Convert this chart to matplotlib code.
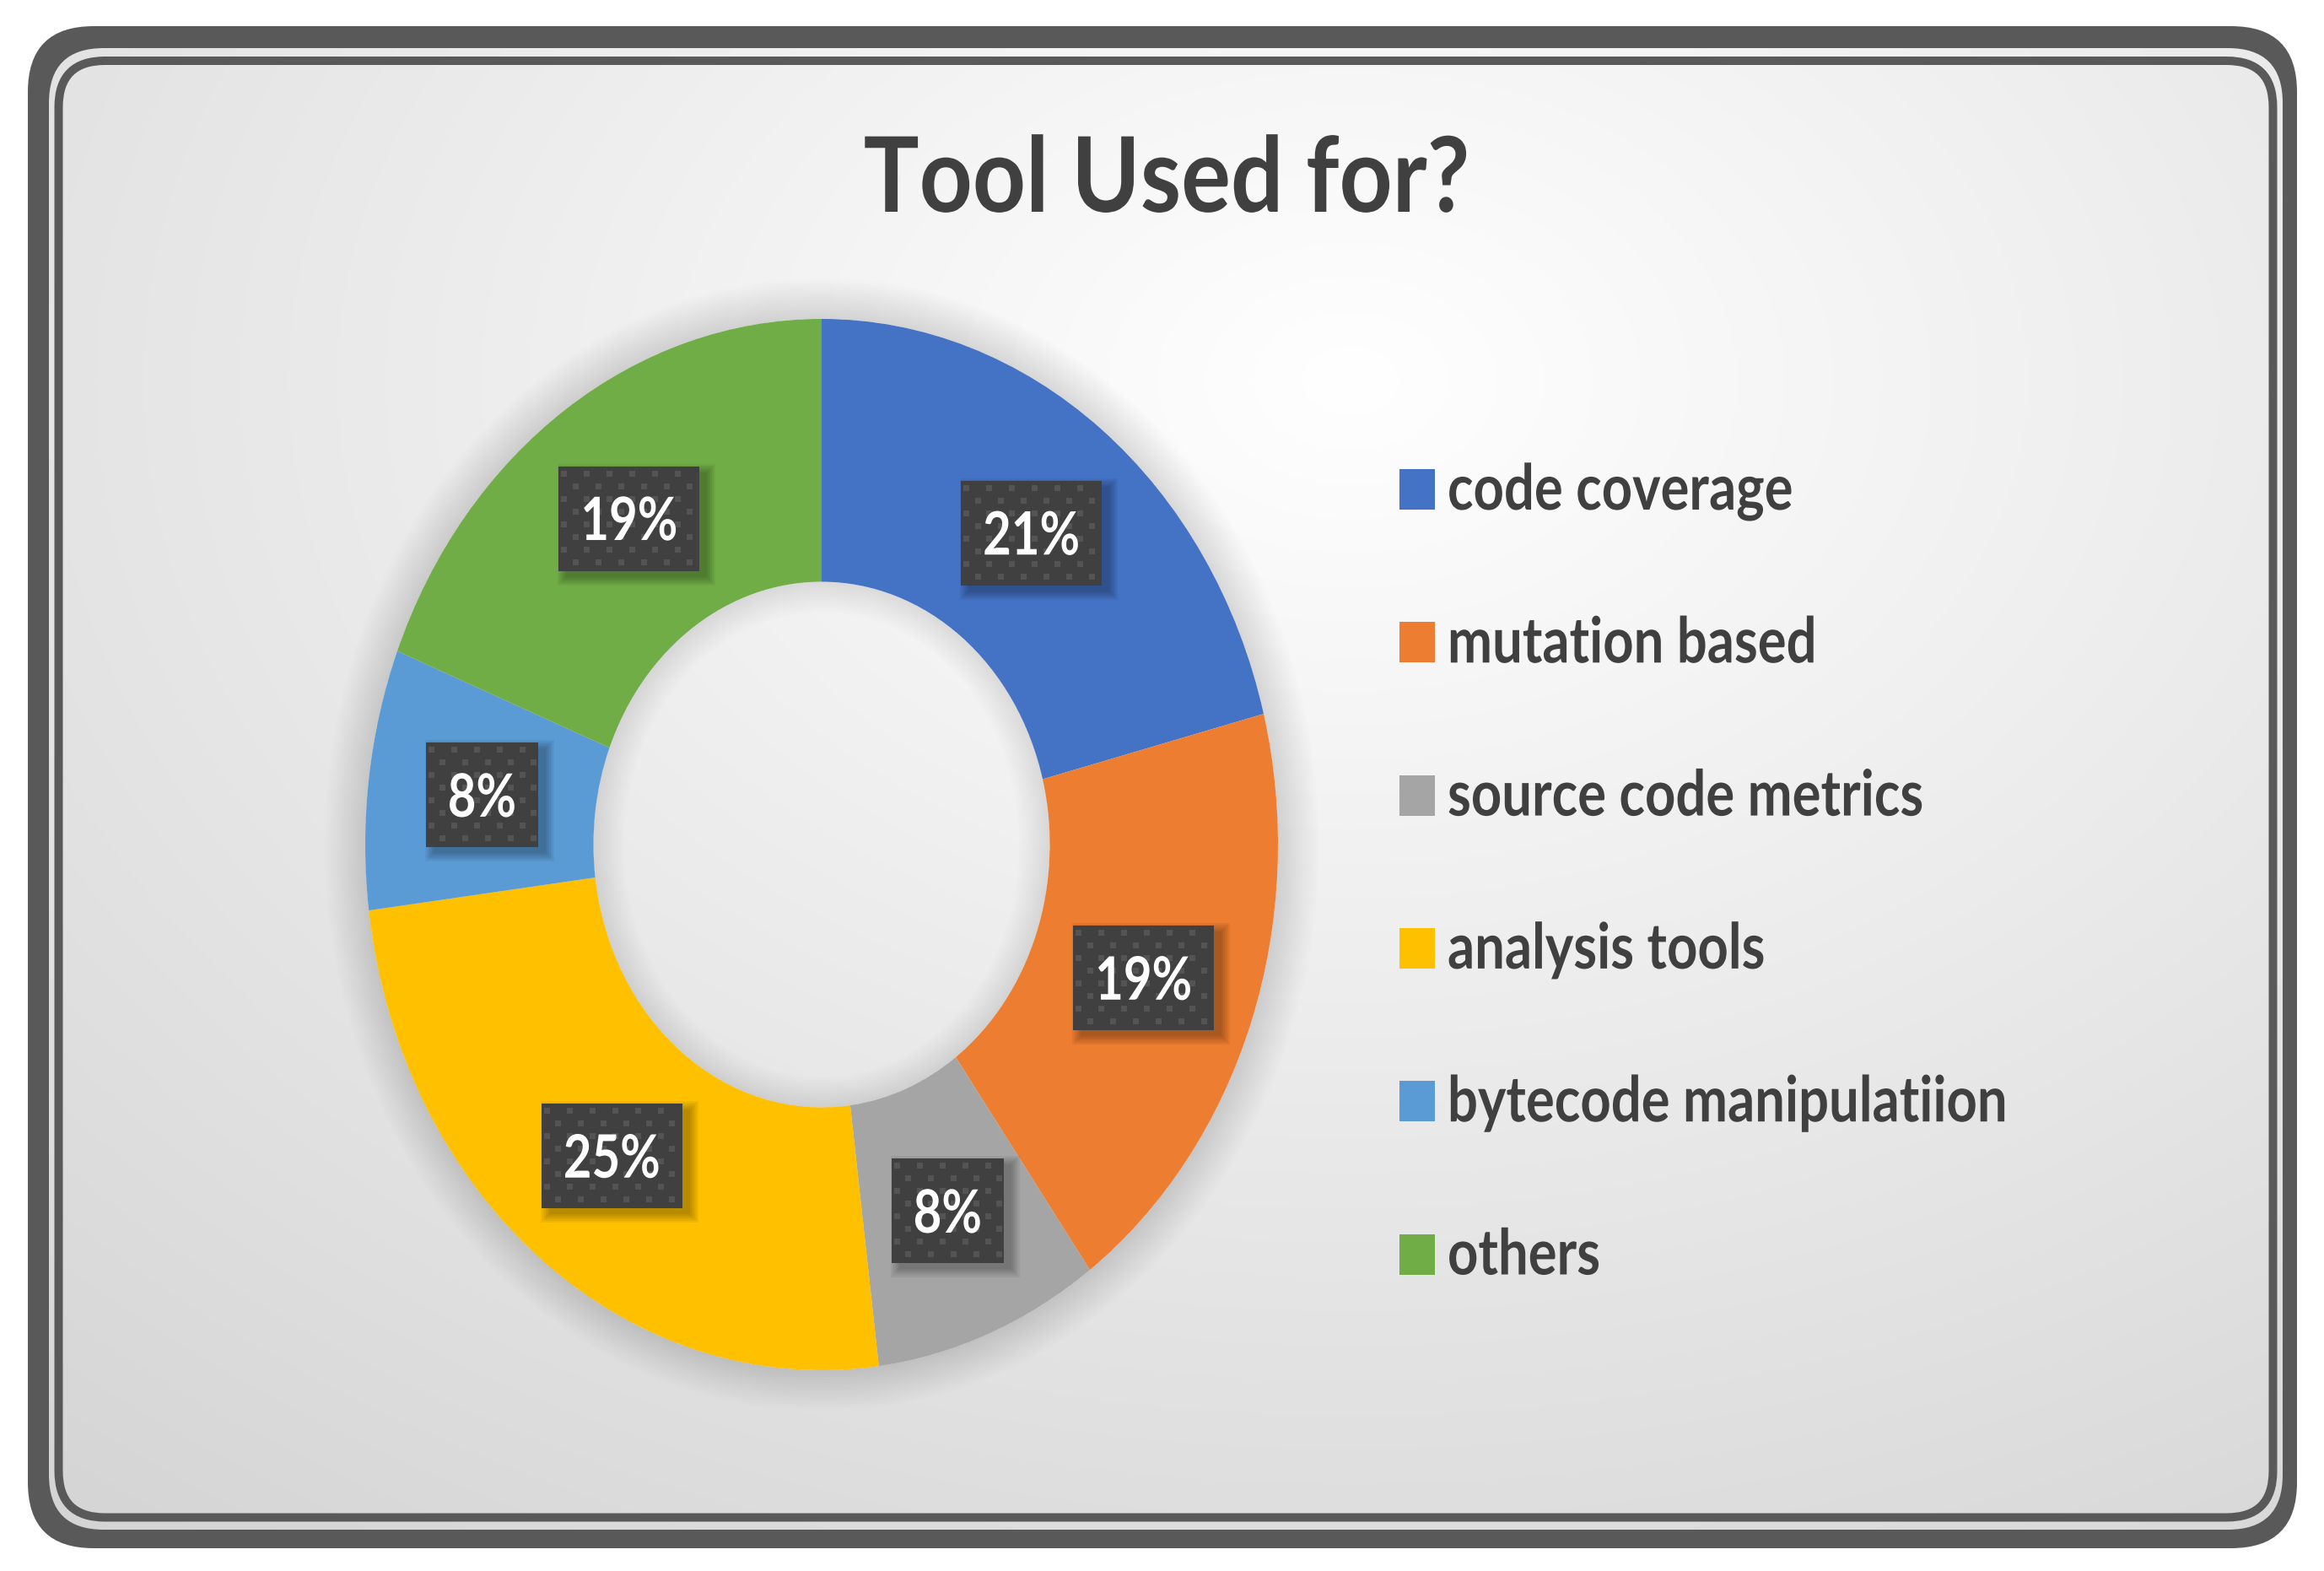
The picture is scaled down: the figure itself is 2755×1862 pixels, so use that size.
import numpy as np
import matplotlib
matplotlib.use('Agg')
import matplotlib.pyplot as plt
from matplotlib.patches import FancyBboxPatch, Rectangle, Annulus
from matplotlib.transforms import Affine2D, ScaledTranslation
from matplotlib.patheffects import AbstractPathEffect

# ---------------- data ----------------
title = 'Tool Used for?'
categories = ['code coverage', 'mutation based', 'source code metrics',
              'analysis tools', 'bytecode manipulatiion', 'others']
shares = [21, 19, 8, 25, 8, 19]
colors = ['#4472C4', '#ED7D31', '#A5A5A5', '#FFC000', '#5B9BD5', '#70AD47']

# ---------------- setup ----------------
W, H = 2755, 1862
DPI = 100
FONT = ['Lato', 'DejaVu Sans']
DARK = '#404040'
plt.rcParams['font.family'] = FONT


class XSqueeze(AbstractPathEffect):
    """Render text horizontally condensed around its anchor point."""
    def __init__(self, text, sx):
        super().__init__()
        self.text = text
        self.sx = sx

    def draw_path(self, renderer, gc, tpath, affine, rgbFace=None):
        x0 = self.text.get_transform().transform(self.text.get_position())[0]
        t = affine + Affine2D().translate(-x0, 0).scale(self.sx, 1).translate(x0, 0)
        renderer.draw_path(gc, tpath, t, rgbFace)


def squeeze(t, sx):
    t.set_path_effects([XSqueeze(t, sx)])


fig = plt.figure(figsize=(W / DPI, H / DPI), dpi=DPI)
fig.patch.set_facecolor('white')

canvas = fig.add_axes([0, 0, 1, 1])
canvas.axis('off')

# background gradient
yy, xx = np.mgrid[0:H:4, 0:W:4]
d = np.hypot(xx - 1600.0, (yy - 450.0) * 1.4)
v = np.clip(1 - 6.85e-5 * d, 0, 1)
img = np.dstack([v, v, v])

outer = FancyBboxPatch((33, 31), 2690, 1804, boxstyle='round,pad=0,rounding_size=78',
                       fc='#595959', ec='none', zorder=0.5)
canvas.add_patch(outer)
inner = FancyBboxPatch((58, 57), 2648, 1756, boxstyle='round,pad=0,rounding_size=65',
                       fc='none', ec='none', zorder=0.6)
canvas.add_patch(inner)
im = canvas.imshow(img, extent=(0, W, H, 0), interpolation='bilinear', zorder=1)
im.set_clip_path(inner)
canvas.add_patch(FancyBboxPatch((69.5, 72), 2625, 1726.5, boxstyle='round,pad=0,rounding_size=55',
                                fc='none', ec='#595959', lw=7.2, zorder=2))
canvas.set_aspect('auto')
canvas.set_xlim(0, W)
canvas.set_ylim(H, 0)

# donut geometry (pixels)
cx, cy, RX, RY = 974, 1001, 541, 623

# soft shadow around donut and inside hole
for k in range(1, 17):
    canvas.add_patch(Annulus((cx, cy), (RX + 3 * k, RY + 3 * k), 3 * k,
                             fc='black', ec='none', alpha=0.0075, zorder=3))
for k in range(1, 13):
    canvas.add_patch(Annulus((cx, cy), (RX * 0.5, RY * 0.5), 3 * k,
                             fc='black', ec='none', alpha=0.006, zorder=3))

# title
tt = canvas.text(1383, 251, title, ha='center', va='baseline', fontsize=89,
                 fontweight='bold', color=DARK, zorder=5)
squeeze(tt, 0.89)

# legend
pitch = 181.3
for i, (lab, col) in enumerate(zip(categories, colors)):
    yb = 604 + i * pitch
    canvas.add_patch(Rectangle((1659, yb - 48), 42, 48, fc=col, ec='none', zorder=5))
    lt = canvas.text(1716, yb, lab, ha='left', va='baseline', fontsize=54,
                     fontweight='bold', color=DARK, zorder=5)
    squeeze(lt, 0.845)

# donut axes
pax = fig.add_axes([(cx - RX) / W, (H - cy - RY) / H, 2 * RX / W, 2 * RY / H])
pax.patch.set_visible(False)
wedges, texts, autotexts = pax.pie(
    shares, colors=colors, startangle=90, counterclock=False, radius=1,
    wedgeprops=dict(width=0.5, linewidth=0, edgecolor='none'),
    autopct=lambda p: f'{p:.0f}%', pctdistance=0.75)
pax.set_aspect('auto')
pax.set_xlim(-1, 1)
pax.set_ylim(-1, 1)
pax.axis('off')

renderer = fig.canvas.get_renderer()
SX_LAB = 0.82
DOT = 7
for t in autotexts:
    t.set_color('white')
    t.set_fontsize(51)
    t.set_fontweight('bold')
    t.set_family(FONT)
    t.set_ha('center')
    t.set_va('baseline')
    t.set_zorder(8)
    t.set_transform(pax.transData + ScaledTranslation(0, -0.255, fig.dpi_scale_trans))
    squeeze(t, SX_LAB)
    w = t.get_window_extent(renderer).width * SX_LAB
    disp = pax.transData.transform(t.get_position())
    px, py = canvas.transData.inverted().transform(disp)
    bw, bh = w + 52, 124
    x0, y0 = px - bw / 2, py - bh / 2
    # shadow
    for k in range(6):
        s = Rectangle((x0 + 9 - 2 * k, y0 + 7 - 2 * k), bw + 4 * k, bh + 4 * k,
                      fc='black', ec='none', alpha=0.05,
                      transform=canvas.transData, zorder=5, clip_on=False)
        pax.add_patch(s)
    box = Rectangle((x0, y0), bw, bh, fc='#404040', ec='none',
                    transform=canvas.transData, zorder=6, clip_on=False)
    pax.add_patch(box)
    # dotted texture (only dots fully inside the box)
    i = 0
    while True:
        ys = y0 + 5 + 15 * i
        if ys + DOT > y0 + bh:
            break
        shift = 0 if i % 2 == 0 else 13.5
        j = 0
        while True:
            xs = x0 + 3 + shift + 27 * j
            if xs + DOT > x0 + bw:
                break
            pax.add_patch(Rectangle((xs, ys), DOT, DOT, fc='#545454', ec='none',
                                    transform=canvas.transData, zorder=7, clip_on=False))
            j += 1
        i += 1

fig.savefig('out.png', dpi=DPI, facecolor='white')
